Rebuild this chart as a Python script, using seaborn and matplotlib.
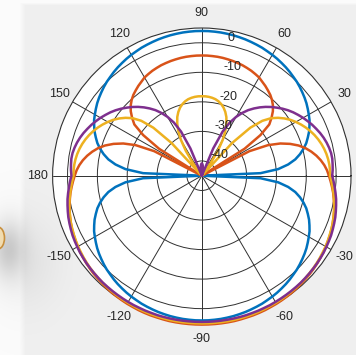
import numpy as np
import pandas as pd
import matplotlib
matplotlib.use("Agg")
import matplotlib.pyplot as plt
from matplotlib.patches import Ellipse
import seaborn as sns

# ---------------------------------------------------------------------------
# Pattern data: gain in dB, sampled every 2.5 degrees from 0 to 360 degrees
# ---------------------------------------------------------------------------
angle_step_deg = 2.5
series_names = ["Pattern 1", "Pattern 2", "Pattern 3", "Pattern 4"]
series_colors = ["#0072BD", "#D95319", "#EDB120", "#7E2F8E"]

pattern1_db = [
    # 0 .. 90
    -45, -25.3, -19.3, -15.8, -13.2, -11.3, -9.7, -8.3, -7.2, -6.1, -5.2, -4.3,
    -3.6, -2.9, -2.2, -1.6, -1.05, -0.5, 0.0, 0.4, 0.85, 1.25, 1.6, 1.95, 2.25,
    2.5, 2.8, 3.0, 3.2, 3.4, 3.55, 3.7, 3.8, 3.9, 3.95, 4.0, 4.0,
    # 92.5 .. 180
    4.0, 3.95, 3.9, 3.8, 3.7, 3.55, 3.4, 3.2, 3.0, 2.8, 2.5, 2.25, 1.95, 1.6,
    1.25, 0.85, 0.4, 0.0, -0.5, -1.05, -1.6, -2.2, -2.9, -3.6, -4.3, -5.2, -6.1,
    -7.2, -8.3, -9.7, -11.3, -13.2, -15.8, -19.3, -25.3, -45,
    # 182.5 .. 270
    -25.3, -19.3, -15.8, -13.2, -11.3, -9.7, -8.3, -7.2, -6.1, -5.2, -4.3,
    -3.6, -2.9, -2.2, -1.6, -1.05, -0.5, 0.0, 0.4, 0.85, 1.25, 1.6, 1.95, 2.25,
    2.5, 2.8, 3.0, 3.2, 3.4, 3.55, 3.7, 3.8, 3.9, 3.95, 4.0, 4.0,
    # 272.5 .. 360
    4.0, 3.95, 3.9, 3.8, 3.7, 3.55, 3.4, 3.2, 3.0, 2.8, 2.5, 2.25, 1.95, 1.6,
    1.25, 0.85, 0.4, 0.0, -0.5, -1.05, -1.6, -2.2, -2.9, -3.6, -4.3, -5.2, -6.1,
    -7.2, -8.3, -9.7, -11.3, -13.2, -15.8, -19.3, -25.3, -45,
]

pattern2_db = [
    # 0 .. 90
    -2.4, -3.0, -3.8, -4.8, -6.0, -7.4, -9.0, -11.0, -13.5, -16.5, -20.5, -27.0,
    -45, -28.0, -21.0, -16.5, -14.5, -12.7, -11.3, -10.2, -9.3, -8.6, -7.9,
    -7.3, -6.6, -6.2, -5.8, -5.5, -5.2, -5.0, -4.8, -4.65, -4.5, -4.4, -4.35,
    -4.3, -4.3,
    # 92.5 .. 180
    -4.3, -4.35, -4.4, -4.5, -4.65, -4.8, -5.0, -5.2, -5.5, -5.8, -6.2, -6.6,
    -7.3, -7.9, -8.6, -9.3, -10.2, -11.3, -12.7, -14.5, -16.5, -21.0, -28.0,
    -45, -27.0, -20.5, -16.5, -13.5, -11.0, -9.0, -7.4, -6.0, -4.8, -3.8, -3.0,
    -2.4,
    # 182.5 .. 270
    -1.8, -1.2, -0.6, -0.1, 0.4, 0.9, 1.3, 1.7, 2.1, 2.4, 2.7, 3.0, 3.3, 3.5,
    3.75, 3.95, 4.15, 4.3, 4.45, 4.6, 4.75, 4.85, 4.95, 5.05, 5.1, 5.2, 5.25,
    5.3, 5.3, 5.35, 5.4, 5.4, 5.4, 5.4, 5.4, 5.4,
    # 272.5 .. 360
    5.4, 5.4, 5.4, 5.4, 5.4, 5.35, 5.3, 5.3, 5.25, 5.2, 5.1, 5.05, 4.95, 4.85,
    4.75, 4.6, 4.45, 4.3, 4.15, 3.95, 3.75, 3.5, 3.3, 3.0, 2.7, 2.4, 2.1, 1.7,
    1.3, 0.9, 0.4, -0.1, -0.6, -1.2, -1.8, -2.4,
]

pattern3_db = [
    # 0 .. 90
    -2.0, -2.0, -2.1, -2.3, -2.6, -3.0, -3.5, -4.1, -4.8, -5.6, -6.5, -7.5,
    -8.6, -9.8, -11.2, -12.8, -14.7, -17.5, -22.0, -30.0, -45, -45, -40.0,
    -35.0, -31.0, -28.0, -25.5, -23.5, -22.0, -20.8, -19.9, -19.2, -18.7,
    -18.4, -18.2, -18.1, -18.1,
    # 92.5 .. 180
    -18.1, -18.2, -18.4, -18.7, -19.2, -19.9, -20.8, -22.0, -23.5, -25.5,
    -28.0, -31.0, -35.0, -40.0, -45, -45, -30.0, -22.0, -17.5, -14.7, -12.8,
    -11.2, -9.8, -8.6, -7.5, -6.5, -5.6, -4.8, -4.1, -3.5, -3.0, -2.6, -2.3,
    -2.1, -2.0, -2.0,
    # 182.5 .. 270
    -1.5, -1.0, -0.5, 0.0, 0.5, 0.9, 1.3, 1.7, 2.0, 2.3, 2.6, 2.9, 3.1, 3.35,
    3.55, 3.75, 3.9, 4.05, 4.2, 4.3, 4.4, 4.5, 4.6, 4.65, 4.7, 4.8, 4.85, 4.9,
    4.9, 4.95, 5.0, 5.0, 5.0, 5.0, 5.0, 5.0,
    # 272.5 .. 360
    5.0, 5.0, 5.0, 5.0, 5.0, 4.95, 4.9, 4.9, 4.85, 4.8, 4.7, 4.65, 4.6, 4.5,
    4.4, 4.3, 4.2, 4.05, 3.9, 3.75, 3.55, 3.35, 3.1, 2.9, 2.6, 2.3, 2.0, 1.7,
    1.3, 0.9, 0.5, 0.0, -0.5, -1.0, -1.5, -2.0,
]

pattern4_db = [
    # 0 .. 90
    -1.3, -1.1, -1.0, -0.9, -1.0, -1.3, -1.7, -2.2, -2.8, -3.5, -4.2, -5.0,
    -5.8, -6.7, -7.6, -8.6, -9.7, -10.9, -12.1, -13.4, -14.8, -16.3, -17.9,
    -19.8, -22.0, -24.7, -28.5, -35.0, -45, -45, -45, -45, -44.0, -42.5,
    -41.5, -41.0, -40.8,
    # 92.5 .. 180
    -41.0, -41.5, -42.5, -44.0, -45, -45, -45, -45, -35.0, -28.5, -24.7,
    -22.0, -19.8, -17.9, -16.3, -14.8, -13.4, -12.1, -10.9, -9.7, -8.6, -7.6,
    -6.7, -5.8, -5.0, -4.2, -3.5, -2.8, -2.2, -1.7, -1.3, -1.0, -0.9, -1.0,
    -1.1, -1.3,
    # 182.5 .. 270
    -0.8, -0.3, 0.2, 0.7, 1.1, 1.5, 1.9, 2.2, 2.5, 2.8, 3.0, 3.2, 3.4, 3.55,
    3.7, 3.8, 3.9, 4.0, 4.1, 4.15, 4.2, 4.25, 4.3, 4.35, 4.4, 4.4, 4.45, 4.45,
    4.5, 4.5, 4.5, 4.5, 4.5, 4.5, 4.5, 4.5,
    # 272.5 .. 360
    4.5, 4.5, 4.5, 4.5, 4.5, 4.5, 4.5, 4.45, 4.45, 4.4, 4.4, 4.35, 4.3, 4.25,
    4.2, 4.15, 4.1, 4.0, 3.9, 3.8, 3.7, 3.55, 3.4, 3.2, 3.0, 2.8, 2.5, 2.2,
    1.9, 1.5, 1.1, 0.7, 0.2, -0.3, -0.8, -1.3,
]

# Axis tick definitions
magnitude_ticks = [0, -10, -20, -30, -40]
magnitude_limits = (-45, 5)
angle_ticks = [30, 60, 90, 120, 150, 180, -150, -120, -90, -60, -30]

# ---------------------------------------------------------------------------
# Long-form table for seaborn
# ---------------------------------------------------------------------------
theta_deg = np.arange(0, 360 + angle_step_deg / 2, angle_step_deg)
frames = []
for name, values in zip(series_names,
                        [pattern1_db, pattern2_db, pattern3_db, pattern4_db]):
    assert len(values) == len(theta_deg), (name, len(values))
    frames.append(pd.DataFrame({
        "theta": np.deg2rad(theta_deg),
        "gain": np.maximum(np.asarray(values, float), magnitude_limits[0]),
        "series": name,
    }))
df = pd.concat(frames, ignore_index=True)

# ---------------------------------------------------------------------------
# Figure
# ---------------------------------------------------------------------------
sns.set_style("white")
plt.rcParams["font.family"] = ["Liberation Sans", "DejaVu Sans"]

W, H = 356, 355
fig = plt.figure(figsize=(W / 100, H / 100), dpi=100)

# window background: light grey panel with a soft white margin on the left/top
yy, xx = np.mgrid[0:H, 0:W].astype(float)
panel = 0.941
bg = np.full((H, W), panel)
left_fade = np.clip((xx - 19) / 6.0, 0, 1)
top_fade = np.clip((yy - 2) / 3.0, 0, 1)
bg = 0.985 - (0.985 - panel) * np.minimum(left_fade, top_fade)
shadow = 0.16 * np.exp(-(((xx - 8) / 16.0) ** 2 + ((yy - 248) / 28.0) ** 2))
shadow += 0.05 * np.exp(-(((xx - 25) / 35.0) ** 2 + ((yy - 262) / 45.0) ** 2))
bg = np.clip(bg - shadow, 0, 1)
bg_ax = fig.add_axes([0, 0, 1, 1], zorder=-10)
bg_ax.imshow(np.dstack([bg, bg, bg]), extent=(0, W, H, 0), aspect="auto",
             interpolation="bilinear")
bg_ax.add_patch(Ellipse((-2, 238), 13, 22, facecolor="#f1dcb0",
                        edgecolor="#c8903e", lw=1.2))
bg_ax.set_xlim(0, W)
bg_ax.set_ylim(H, 0)
bg_ax.axis("off")

# polar axes
ax = fig.add_axes([0.1478, 0.0890, 0.8382, 0.8321], projection="polar")
ax.set_aspect("auto")
ax.set_facecolor("white")

sns.lineplot(data=df, x="theta", y="gain", hue="series",
             hue_order=series_names, palette=series_colors,
             estimator=None, sort=False, legend=False, lw=1.8,
             clip_on=False, ax=ax)

ax.set_ylim(*magnitude_limits)
ax.set_yticks(magnitude_ticks)
ax.set_yticklabels([])
ax.set_xticks(np.deg2rad(np.arange(0, 360, 30)))
ax.set_xticklabels([])
ax.tick_params(length=0)
ax.set_xlabel("")
ax.set_ylabel("")
ax.grid(True, color="#303030", lw=0.7)
ax.spines["polar"].set_color("#303030")
ax.spines["polar"].set_linewidth(0.8)
for line in ax.get_lines():
    line.set_zorder(3)

text_color = "#262626"
for a in angle_ticks:
    ax.text(np.deg2rad(a), 10.2, str(a), ha="center", va="center",
            fontsize=9, color=text_color, clip_on=False)

for m in magnitude_ticks:
    ax.annotate(str(m), xy=(np.deg2rad(82), m), xytext=(5.0, 4.3),
                textcoords="offset points", ha="left", va="center",
                fontsize=9, color=text_color, zorder=4)

fig.savefig("out.png", dpi=100)
